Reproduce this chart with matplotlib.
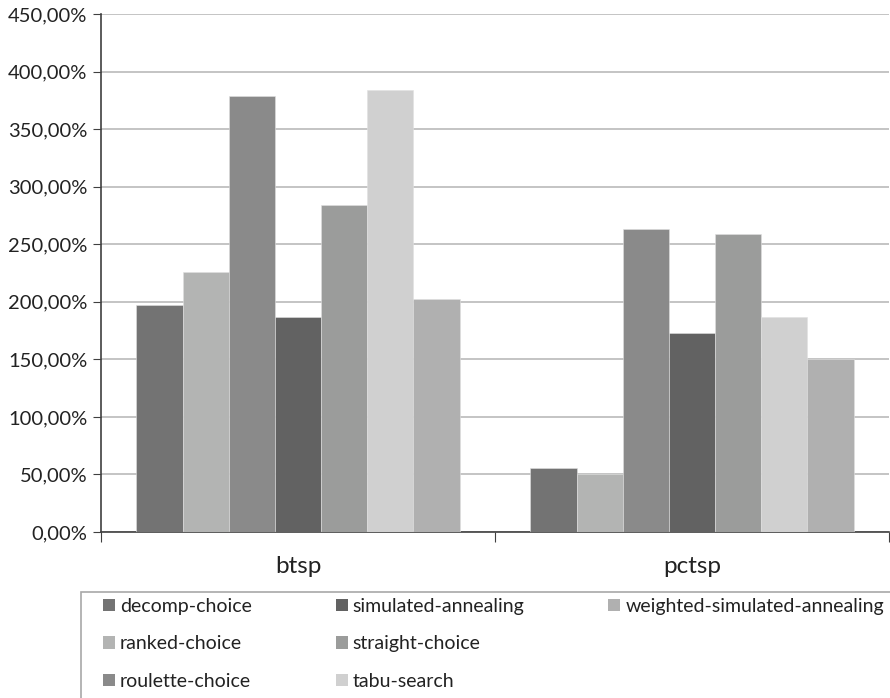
import matplotlib.pyplot as plt
import numpy as np
from matplotlib.ticker import FuncFormatter
from matplotlib.patches import Rectangle

# data
categories = ["btsp", "pctsp"]
methods = ["decomp-choice", "ranked-choice", "roulette-choice", "simulated-annealing",
           "straight-choice", "tabu-search", "weighted-simulated-annealing"]
btsp = [197.5, 225.5, 379, 186.5, 284.5, 384, 202.5]
pctsp = [56, 50, 263.5, 172.5, 259, 186.5, 150.5]
colors = ["#737373", "#b3b4b3", "#8a8a8a", "#626262", "#9b9c9b", "#d0d0d0", "#b0b0b0"]

plt.rcParams['font.family'] = ['Lato', 'DejaVu Sans']

fig = plt.figure(figsize=(8.9, 6.98), dpi=100)
ax = fig.add_axes([101/890, 1-532/698, 788/890, (532-14)/698])

x = np.arange(len(categories))
n = len(methods)
w = 0.82 / n
for i, m in enumerate(methods):
    vals = [btsp[i], pctsp[i]]
    ax.bar(x - 0.41 + w*(i+0.5), vals, w, color=colors[i], label=m,
           edgecolor="#e0e0e0", linewidth=0.4, zorder=3)

ax.set_xlim(-0.5, 1.5)
ax.set_ylim(0, 450)
ax.set_yticks(np.arange(0, 451, 50))
ax.yaxis.set_major_formatter(FuncFormatter(lambda v, p: f"{v:.2f}".replace(".", ",") + "%"))
ax.grid(axis="y", color="#b4b4b4", linewidth=1.1, zorder=0)
ax.set_xticks([-0.5, 0.5, 1.5])
ax.set_xticklabels([])
ax.set_xticks(x, minor=True)
ax.set_xticklabels(categories, minor=True, fontsize=17.5)
ax.tick_params(axis="x", which="minor", length=0, pad=17, labelcolor="#222222")
ax.tick_params(axis="x", which="major", length=7, direction="out", color="#404040")
ax.tick_params(axis="y", length=6, direction="out", color="#404040", labelsize=14.5, pad=4,
               labelcolor="#222222")
for s in ["top", "right"]:
    ax.spines[s].set_visible(False)
ax.spines["left"].set_color("#404040")
ax.spines["bottom"].set_color("#404040")
ax.spines["left"].set_linewidth(1.2)
ax.spines["bottom"].set_linewidth(1.2)

# legend box, running off the bottom and right of the picture as in the original
fig.patches.append(Rectangle((81/890, -0.05), 0.95, 1 - 592/698 + 0.05, transform=fig.transFigure,
                             facecolor="none", edgecolor="#a8a8a8", linewidth=1.2))

# legend laid out in 3 columns of 3,3,1 like the original
handles, labels = ax.get_legend_handles_labels()
blank = Rectangle((0, 0), 1, 1, alpha=0)
handles = handles + [blank, blank]
labels = labels + ["", ""]
leg = fig.legend(handles, labels, loc="upper left", bbox_to_anchor=(103/890, 1-598/698),
                 ncol=3, fontsize=14, frameon=False,
                 handlelength=0.62, handleheight=0.62, handletextpad=0.26, columnspacing=4.3,
                 labelspacing=1.05, borderpad=0, borderaxespad=0)
for t in leg.get_texts():
    t.set_color("#222222")
for h in leg.legend_handles:
    h.set_edgecolor("none")

fig.savefig("out.png", dpi=100)
